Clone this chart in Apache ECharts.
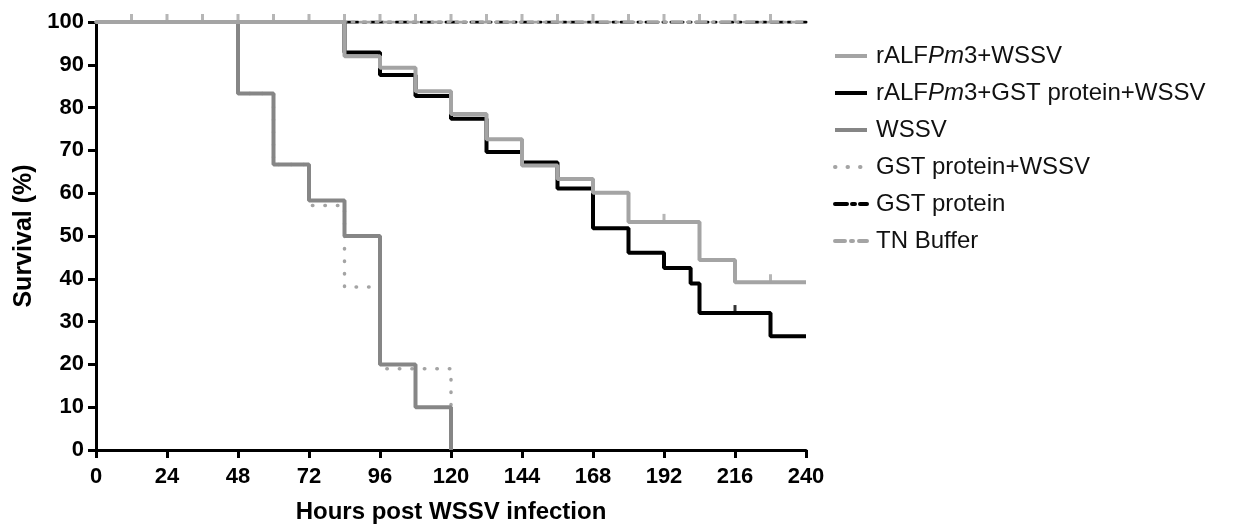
<!DOCTYPE html>
<html>
<head>
<meta charset="utf-8">
<script src="https://cdn.jsdelivr.net/npm/echarts@6/dist/echarts.min.js"></script>
<style>
  html, body { margin: 0; padding: 0; background: #fff; }
  #survivalChart { width: 1236px; height: 525px; }
</style>
</head>
<body>
<div id="survivalChart"></div>
<script>
// Kaplan-Meier survival
const xTicks = [0, 24, 48, 72, 96, 120, 144, 168, 192, 216, 240];
const seriesNames = ['rALFPm3+WSSV', 'rALFPm3+GST protein+WSSV', 'WSSV', 'GST protein+WSSV', 'GST protein', 'TN Buffer'];

const hoursRalf = [0, 84, 96, 108, 120, 132, 144, 156, 168, 180, 204, 216, 240];
const survRalf = [100, 92, 89.3, 83.8, 78.5, 72.6, 66.5, 63.3, 60.1, 53.3, 44.4, 39.2, 39.2];

const hoursRalfGst = [0, 84, 96, 108, 120, 132, 144, 156, 168, 180, 192, 201, 204, 228, 240];
const survRalfGst = [100, 92.9, 87.6, 82.7, 77.4, 69.6, 67.2, 61.1, 51.8, 46.1, 42.5, 38.9, 32.0, 26.6, 26.6];

const hoursWssv = [0, 48, 60, 72, 84, 96, 108, 120];
const survWssv = [100, 83.3, 66.7, 58.3, 50, 20, 10, 0];

const hoursGstWssv = [0, 48, 60, 72, 84, 96, 120];
const survGstWssv = [100, 83.3, 66.7, 57.1, 38.1, 19.0, 0];

const hoursGst = [0, 240];
const survGst = [100, 100];

const hoursTn = [0, 240];
const survTn = [100, 100];

// censored observations (small upward ticks)
const censorTnHours = [12, 24, 36, 48, 60, 72, 84, 96, 108, 120, 132, 144, 156, 168, 180, 192, 204, 216, 228];
const censorRalfHours = [192, 228];
const censorRalfSurv = [53.3, 39.2];
const censorRalfGstHours = [216];
const censorRalfGstSurv = [32.0];

function pairs(xs, ys) {
  return xs.map((x, i) => [x, ys[i]]);
}

const lightGray = '#a4a4a4';
const midGray = '#868686';

const myChart = echarts.init(document.getElementById('survivalChart'));

const fontFam = '"Liberation Sans", Arial, sans-serif';

function stepSeries(name, data, color, width, type, z) {
  return {
    name: name,
    type: 'line',
    step: 'end',
    symbol: 'none',
    data: data,
    z: z,
    lineStyle: { color: color, width: width, type: type, cap: type === 'solid' ? 'butt' : 'round' },
    itemStyle: { color: color }
  };
}

function censorSeries(data, color, z) {
  return {
    type: 'scatter',
    data: data,
    symbol: 'rect',
    symbolSize: [3, 8],
    symbolOffset: [0, -4],
    itemStyle: { color: color },
    z: z,
    silent: true
  };
}

const option = {
  animation: false,
  backgroundColor: '#fff',
  grid: { left: 96, right: 430, top: 22, bottom: 75, outerBoundsMode: 'none' },
  legend: {
    orient: 'vertical',
    left: 828,
    top: 39,
    itemWidth: 32,
    itemHeight: 20,
    itemGap: 13,
    data: seriesNames,
    itemStyle: { opacity: 0 },
    lineStyle: { width: 4 },
    textStyle: {
      color: '#111',
      fontFamily: fontFam,
      fontSize: 24,
      padding: [0, 0, 0, 4],
      rich: {
        n: { fontFamily: fontFam, fontSize: 24, color: '#111' },
        i: { fontFamily: fontFam, fontSize: 24, color: '#111', fontStyle: 'italic' }
      }
    },
    formatter: function (name) {
      if (name.indexOf('rALFPm3') === 0) {
        return '{n|rALF}{i|Pm}{n|' + name.slice(6) + '}';
      }
      return '{n|' + name + '}';
    }
  },
  xAxis: {
    type: 'value',
    min: 0,
    max: 240,
    interval: 24,
    name: 'Hours post WSSV infection',
    nameLocation: 'middle',
    nameGap: 50,
    nameTextStyle: { fontFamily: fontFam, fontSize: 24, fontWeight: 'bold', color: '#000' },
    axisLine: { lineStyle: { color: '#000', width: 3 } },
    axisTick: { length: 8, lineStyle: { color: '#000', width: 3 } },
    axisLabel: { margin: 16, fontFamily: fontFam, fontSize: 22, fontWeight: 'bold', color: '#000' },
    splitLine: { show: false }
  },
  yAxis: {
    type: 'value',
    min: 0,
    max: 100,
    interval: 10,
    name: 'Survival (%)',
    nameLocation: 'middle',
    nameGap: 51,
    nameTextStyle: { fontFamily: fontFam, fontSize: 25, fontWeight: 'bold', color: '#000' },
    axisLine: { show: true, lineStyle: { color: '#000', width: 3 } },
    axisTick: { show: true, length: 8, lineStyle: { color: '#000', width: 3 } },
    axisLabel: { margin: 12, fontFamily: fontFam, fontSize: 22, fontWeight: 'bold', color: '#000' },
    splitLine: { show: false }
  },
  series: [
    stepSeries(seriesNames[4], pairs(hoursGst, survGst), '#000', 3, [12, 5, 3, 5], 2),
    stepSeries(seriesNames[5], pairs(hoursTn, survTn), lightGray, 3, [10, 6, 2, 6], 3),
    stepSeries(seriesNames[3], pairs(hoursGstWssv, survGstWssv), lightGray, 3.5, [0.5, 12], 4),
    stepSeries(seriesNames[2], pairs(hoursWssv, survWssv), midGray, 4, 'solid', 5),
    stepSeries(seriesNames[1], pairs(hoursRalfGst, survRalfGst), '#000', 4, 'solid', 6),
    stepSeries(seriesNames[0], pairs(hoursRalf, survRalf), lightGray, 4, 'solid', 7),
    censorSeries(censorTnHours.map(h => [h, 100]), lightGray, 8),
    censorSeries(pairs(censorRalfHours, censorRalfSurv), lightGray, 8),
    censorSeries(pairs(censorRalfGstHours, censorRalfGstSurv), '#000', 8)
  ]
};

myChart.setOption(option);
</script>
</body>
</html>
